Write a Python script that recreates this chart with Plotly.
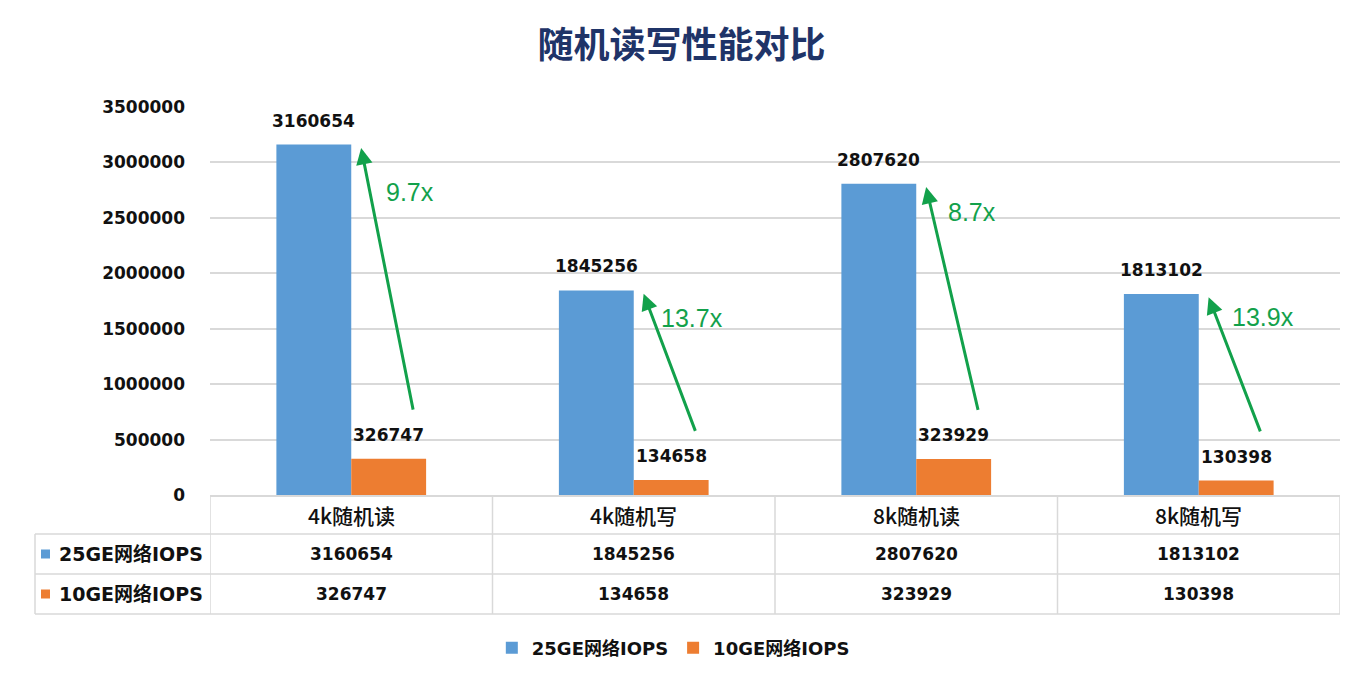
import plotly.graph_objects as go

# ---------------- data ----------------
categories = ["4k随机读", "4k随机写", "8k随机读", "8k随机写"]
series_names = ["25GE网络IOPS", "10GE网络IOPS"]
iops_25ge = [3160654, 1845256, 2807620, 1813102]
iops_10ge = [326747, 134658, 323929, 130398]
y_ticks = [0, 500000, 1000000, 1500000, 2000000, 2500000, 3000000, 3500000]

# ---------------- style / geometry ----------------
W, H = 1363, 673
L, R, T, B = 210, 1340, 107, 495
BLUE, ORANGE = "#5B9BD5", "#ED7D31"
GRID = "#D9D9D9"
GREEN = "#12A14B"
FONT = "DejaVu Sans, Noto Sans CJK SC, sans-serif"
CJK = "Noto Sans CJK SC, DejaVu Sans, sans-serif"
BARGAP = 0.47


def px_x(px):
    return (px - L) / (R - L)


def px_y(py):
    return (B - py) / (B - T)


xs = list(range(len(categories)))
colors = [BLUE, ORANGE]
values = [iops_25ge, iops_10ge]
bar_w = (1 - BARGAP) / 2
offsets = [-bar_w / 2, bar_w / 2]

fig = go.Figure()
for name, vals, col in zip(series_names, values, colors):
    fig.add_trace(go.Bar(
        x=xs, y=vals, name=name, marker=dict(color=col, line=dict(width=0)),
        cliponaxis=False, hoverinfo="x+y",
    ))

shapes = []
annotations = []

# value labels above bars
for vals, off in zip(values, offsets):
    for i, v in enumerate(vals):
        annotations.append(dict(x=i + off, xref="x", y=v, yref="y", text=str(v),
                                showarrow=False, xanchor="center", yanchor="bottom", yshift=12,
                                font=dict(family=FONT, size=17, color="#111111", weight="bold")))

# table geometry (pixels)
row_edges = [495, 534, 574, 614]
left_px = 35
for py in row_edges[1:]:
    shapes.append(dict(type="line", xref="paper", yref="paper",
                       x0=px_x(left_px), x1=1, y0=px_y(py), y1=px_y(py),
                       line=dict(color=GRID, width=1.5)))
shapes.append(dict(type="line", xref="paper", yref="paper",
                   x0=px_x(left_px), x1=px_x(left_px), y0=px_y(534), y1=px_y(614),
                   line=dict(color=GRID, width=1.5)))
for b in [-0.5, 0.5, 1.5, 2.5, 3.5]:
    shapes.append(dict(type="line", xref="x", yref="paper",
                       x0=b, x1=b, y0=0, y1=px_y(614),
                       line=dict(color=GRID, width=1.5)))

# header row
for i, c in enumerate(categories):
    annotations.append(dict(x=i, xref="x", y=px_y(514.5), yref="paper", text=c,
                            showarrow=False, xanchor="center", yanchor="middle",
                            font=dict(family=CJK, size=21, color="#111111", weight=500)))
# data rows
row_centers = [554, 594]
for r, (name, vals, col) in enumerate(zip(series_names, values, colors)):
    yc = row_centers[r]
    shapes.append(dict(type="rect", xref="paper", yref="paper",
                       x0=px_x(41), x1=px_x(50), y0=px_y(yc + 4.5), y1=px_y(yc - 4.5),
                       fillcolor=col, line=dict(width=0)))
    annotations.append(dict(x=px_x(57), xref="paper", y=px_y(yc), yref="paper", text=name,
                            showarrow=False, xanchor="left", yanchor="middle",
                            font=dict(family=FONT, size=19, color="#111111", weight="bold")))
    for i, v in enumerate(vals):
        annotations.append(dict(x=i, xref="x", y=px_y(yc), yref="paper", text=str(v),
                                showarrow=False, xanchor="center", yanchor="middle",
                                font=dict(family=FONT, size=17, color="#111111", weight="bold")))

# green ratio arrows
ratio_label_shift = [-22, -2, -3, 3]
ratio_label_dx = [0.115, 0.09, 0.105, 0.11]
for i in xs:
    hi, lo = iops_25ge[i], iops_10ge[i]
    annotations.append(dict(
        x=i + 0.035, y=hi - 30000, xref="x", yref="y",
        ax=i + 0.22, ay=lo + 430000, axref="x", ayref="y",
        text="", showarrow=True, arrowhead=2, arrowsize=1.1, arrowwidth=3,
        arrowcolor=GREEN, standoff=0,
    ))
    annotations.append(dict(
        x=i + ratio_label_dx[i], y=hi - 230000, xref="x", yref="y", yshift=ratio_label_shift[i],
        text=f"{hi / lo:.1f}x", showarrow=False, xanchor="left", yanchor="middle",
        font=dict(family="Liberation Sans, Arial, sans-serif", size=25, color=GREEN),
    ))

fig.update_layout(
    width=W, height=H,
    margin=dict(l=L, r=W - R, t=T, b=H - B, pad=0),
    paper_bgcolor="white", plot_bgcolor="white",
    font=dict(family=FONT, color="#111111"),
    title=dict(text="随机读写性能对比", x=0.5, xref="container", xanchor="center",
               y=1 - 45 / H, yref="container", yanchor="middle",
               font=dict(family=CJK, size=36, color="#1F3468", weight="bold")),
    barmode="group", bargap=BARGAP, bargroupgap=0,
    xaxis=dict(range=[-0.5, 3.5], showticklabels=False, showgrid=False, zeroline=False,
               showline=True, linecolor=GRID, linewidth=1.5, ticks="", fixedrange=True),
    yaxis=dict(range=[0, 3500000], tickvals=y_ticks, ticktext=[str(t) for t in y_ticks],
               showgrid=True, gridcolor=GRID, gridwidth=1.5, zeroline=False, showline=False,
               ticks="", ticklabelstandoff=24,
               tickfont=dict(family=FONT, size=17, color="#111111", weight="bold")),
    showlegend=True,
    legend=dict(orientation="h", xref="container", yref="container",
                x=0.494, xanchor="center", y=1 - 648 / H, yanchor="middle",
                font=dict(family=FONT, size=18, color="#111111", weight="bold"),
                itemclick=False, itemdoubleclick=False, tracegroupgap=0),
    shapes=shapes, annotations=annotations,
)

fig.write_html("out.html", config={"displayModeBar": False},
               post_script="document.body.style.margin='0';document.body.style.overflow='hidden';")
